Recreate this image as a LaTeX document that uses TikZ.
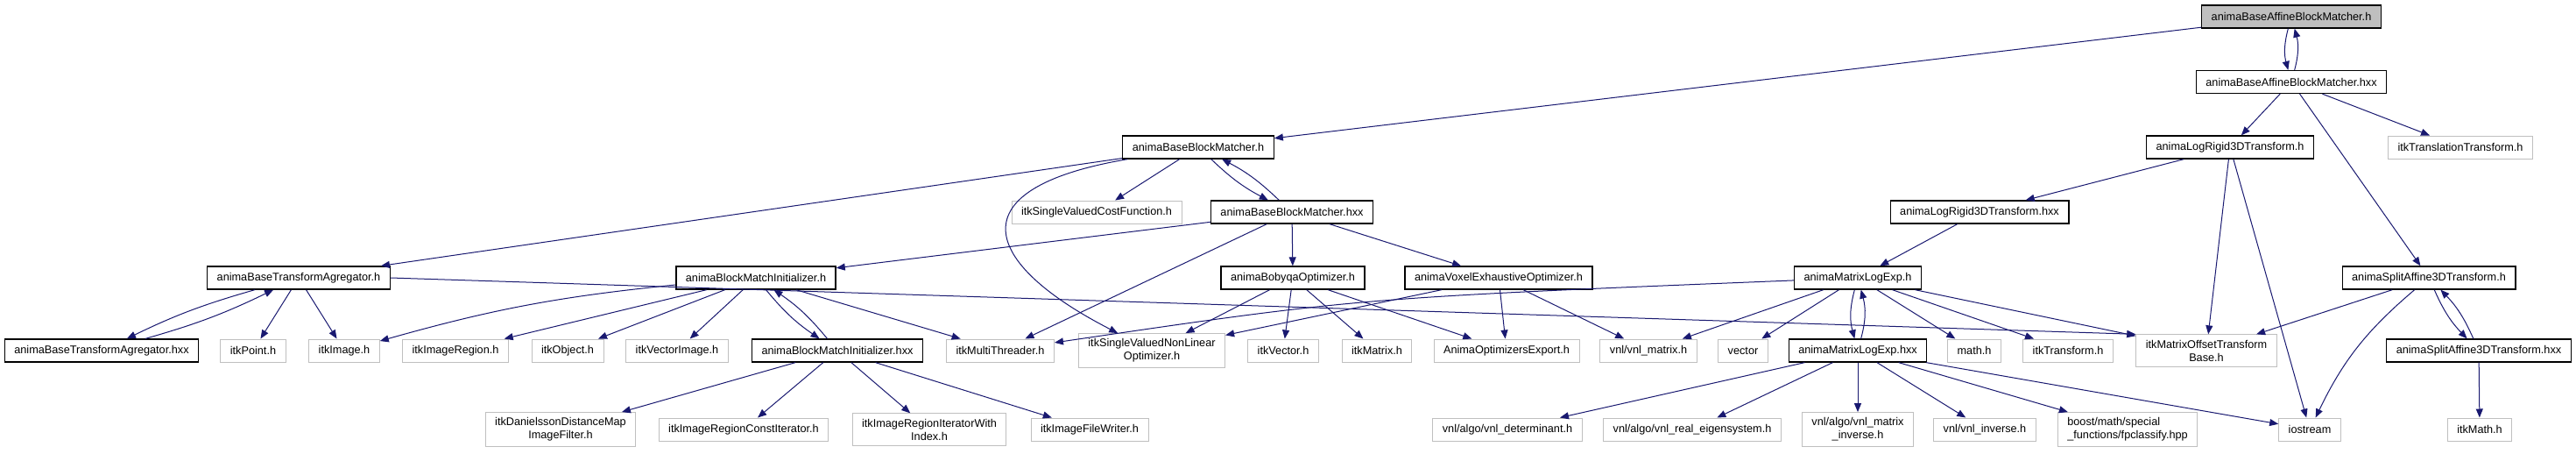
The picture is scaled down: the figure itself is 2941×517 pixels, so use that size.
\documentclass[tikz,border=0pt]{standalone}
\usepackage{fontspec}
\setmainfont{Liberation Sans}
\usetikzlibrary{arrows.meta}
\definecolor{edgeblue}{HTML}{191970}
\definecolor{extgray}{HTML}{BFBFBF}
\begin{document}
\begin{tikzpicture}[x=1pt, y=-1pt, >={Triangle[length=10pt,width=8pt]},
	file/.style={draw=black, line width=1.3pt, fill=white, font=\fontsize{12.7}{15}\selectfont, inner xsep=11pt, inner ysep=6pt, minimum height=26pt, align=center},
	ext/.style={file, draw=extgray, line width=1pt},
	dep/.style={->, color=edgeblue, line width=1pt}]
			\useasboundingbox (0,0) rectangle (2941,517);
			\node[file, fill=extgray] (abbm) at (2616,19) {animaBaseAffineBlockMatcher.h};
			\node[file] (abbmhxx) at (2616,93.5) {animaBaseAffineBlockMatcher.hxx};
			\node[file] (bbmh) at (1368,168) {animaBaseBlockMatcher.h};
			\node[file] (lrh) at (2546,168) {animaLogRigid3DTransform.h};
			\node[ext] (ittrans) at (2809,168) {itkTranslationTransform.h};
			\node[ext] (svcf) at (1252,242) {itkSingleValuedCostFunction.h};
			\node[file] (bbmhxx) at (1475,242) {animaBaseBlockMatcher.hxx};
			\node[file] (lrhxx) at (2260,242) {animaLogRigid3DTransform.hxx};
			\node[file] (btah) at (341,317) {animaBaseTransformAgregator.h};
			\node[file] (bmih) at (863,317) {animaBlockMatchInitializer.h};
			\node[file] (bobyqa) at (1476,317) {animaBobyqaOptimizer.h};
			\node[file] (voxel) at (1711,317) {animaVoxelExhaustiveOptimizer.h};
			\node[file] (mleh) at (2121,317) {animaMatrixLogExp.h};
			\node[file] (sah) at (2773,317) {animaSplitAffine3DTransform.h};
			\node[file] (btahxx) at (116,400) {animaBaseTransformAgregator.hxx};
			\node[ext] (point) at (289,400) {itkPoint.h};
			\node[ext] (image) at (393,400) {itkImage.h};
			\node[ext] (imgregion) at (520,400) {itkImageRegion.h};
			\node[ext] (object) at (648,400) {itkObject.h};
			\node[ext] (vecimage) at (773,400) {itkVectorImage.h};
			\node[file] (bmihxx) at (956,400) {animaBlockMatchInitializer.hxx};
			\node[ext] (mthread) at (1142,400) {itkMultiThreader.h};
			\node[ext] (svnlo) at (1315,400) {itkSingleValuedNonLinear\\Optimizer.h};
			\node[ext] (vector) at (1465,400) {itkVector.h};
			\node[ext] (matrix) at (1572,400) {itkMatrix.h};
			\node[ext] (aoe) at (1720,400) {AnimaOptimizersExport.h};
			\node[ext] (vnlmatrix) at (1882,400) {vnl/vnl\_matrix.h};
			\node[ext] (stdvector) at (1990,400) {vector};
			\node[file] (mlehxx) at (2121,400) {animaMatrixLogExp.hxx};
			\node[ext] (math) at (2254,400) {math.h};
			\node[ext] (transform) at (2361,400) {itkTransform.h};
			\node[ext] (motb) at (2519,400) {itkMatrixOffsetTransform\\Base.h};
			\node[file] (sahxx) at (2830,400) {animaSplitAffine3DTransform.hxx};
			\node[ext] (danielsson) at (640,490) {itkDanielssonDistanceMap\\ImageFilter.h};
			\node[ext] (constiter) at (849,490) {itkImageRegionConstIterator.h};
			\node[ext] (iterindex) at (1061,490) {itkImageRegionIteratorWith\\Index.h};
			\node[ext] (filewriter) at (1244,490) {itkImageFileWriter.h};
			\node[ext] (determinant) at (1721,490) {vnl/algo/vnl\_determinant.h};
			\node[ext] (eigen) at (1932,490) {vnl/algo/vnl\_real\_eigensystem.h};
			\node[ext] (matinv) at (2121,490) {vnl/algo/vnl\_matrix\\\_inverse.h};
			\node[ext] (vnlinv) at (2266,490) {vnl/vnl\_inverse.h};
			\node[ext, align=left] (boost) at (2429,490) {boost/math/special\\\_functions/fpclassify.hpp};
			\node[ext] (iostream) at (2637,490) {iostream};
			\node[ext] (itkmath) at (2831,490) {itkMath.h};
			\path[dep] (abbm) edge[bend right=15] (abbmhxx) edge (bbmh);
			\path[dep] (abbmhxx) edge[bend right=15] (abbm) edge (lrh) edge (ittrans) edge (sah);
			\path[dep] (bbmh) edge (svcf) edge[bend right=8] (bbmhxx) edge (btah);
			\draw[dep] (bbmh) .. controls (1090,215) and (1120,300) .. (svnlo);
			\path[dep] (bbmhxx) edge[bend right=8] (bbmh) edge (bmih) edge (mthread) edge (bobyqa) edge (voxel);
			\path[dep] (lrh) edge (lrhxx) edge (motb) edge (iostream);
			\path[dep] (lrhxx) edge (mleh);
			\path[dep] (btah) edge[bend right=5] (btahxx) edge (point) edge (image);
			\draw[dep] (btah.east) -- (motb.north west);
			\path[dep] (btahxx) edge[bend right=5] (btah);
			\path[dep] (bmih) edge[bend right=5] (image) edge (imgregion) edge (object) edge (vecimage) edge[bend right=8] (bmihxx) edge (mthread);
			\path[dep] (bmihxx) edge[bend right=8] (bmih) edge (danielsson) edge (constiter) edge (iterindex) edge (filewriter);
			\path[dep] (bobyqa) edge (svnlo) edge (vector) edge (matrix) edge (aoe);
			\path[dep] (voxel) edge (svnlo) edge (aoe) edge (vnlmatrix);
			\draw[dep] (mleh) .. controls (1550,340) .. (mthread);
			\path[dep] (mleh) edge (vnlmatrix) edge (stdvector) edge[bend right=15] (mlehxx) edge (math) edge (transform) edge (motb);
			\path[dep] (mlehxx) edge[bend right=15] (mleh) edge (determinant) edge (eigen) edge (matinv) edge (vnlinv) edge (boost) edge (iostream);
			\path[dep] (sah) edge (motb) edge[bend right=12] (iostream) edge[bend right=10] (sahxx);
			\path[dep] (sahxx) edge[bend right=10] (sah) edge (itkmath);
\end{tikzpicture}
\end{document}
